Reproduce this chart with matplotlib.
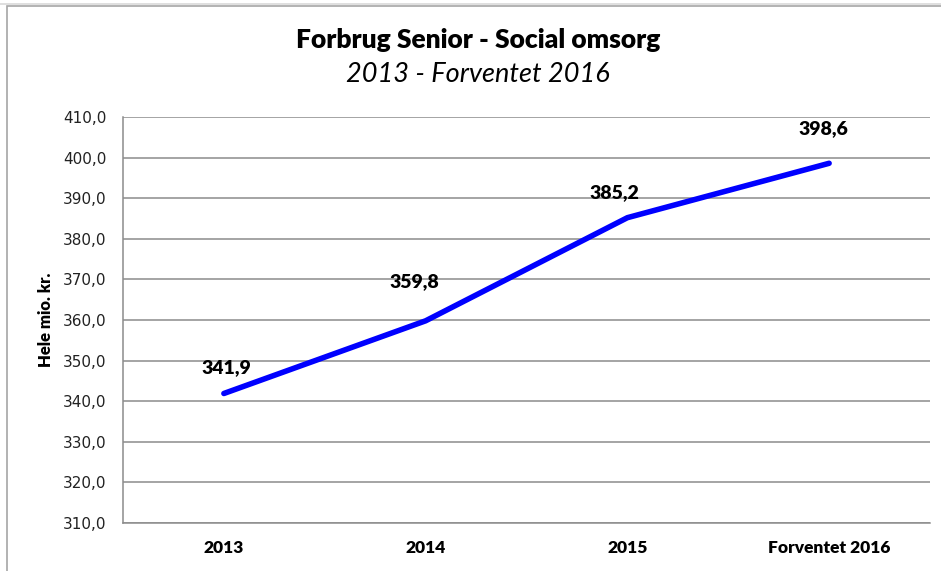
import matplotlib.pyplot as plt
from matplotlib.patches import Rectangle
from matplotlib.lines import Line2D

categories = ['2013', '2014', '2015', 'Forventet 2016']
values = [341.9, 359.8, 385.2, 398.6]
y_ticks = [310, 320, 330, 340, 350, 360, 370, 380, 390, 400, 410]
# label offsets in points (dx, dy), as placed in the original chart
label_offsets = [(2, 19), (-8, 28), (-9, 18), (-4, 25)]

W, H = 941, 571
fig = plt.figure(figsize=(W / 100, H / 100), dpi=100)
fig.patch.set_facecolor('white')

# outer chart frame
fig.add_artist(Line2D([0, 1], [1 - 3.5 / H, 1 - 3.5 / H], color='#d9d9d9', lw=1.2,
                      transform=fig.transFigure))
fig.add_artist(Rectangle((7 / W, -0.1), 1.2, 1 - 6 / H + 0.1, transform=fig.transFigure,
                         fill=False, edgecolor='#a6a6a6', lw=1.2))

ax = fig.add_axes([123 / W, 1 - 523 / H, (930 - 123) / W, (523 - 117) / H])
x = list(range(len(categories)))
ax.plot(x, values, color='#0000ff', lw=4, solid_capstyle='round', solid_joinstyle='round', zorder=3)

for xi, v, (dx, dy) in zip(x, values, label_offsets):
    ax.annotate(f'{v:.1f}'.replace('.', ','), (xi, v), xytext=(dx, dy), textcoords='offset points',
                ha='center', va='center', fontsize=14, fontweight='heavy', family='Lato')

ax.set_xlim(-0.5, len(categories) - 0.5)
ax.set_ylim(310, 410)
ax.set_yticks(y_ticks)
ax.set_yticklabels([f'{t},0' for t in y_ticks], fontsize=11, family='DejaVu Sans', color='#222222')
ax.set_xticks(x)
ax.set_xticklabels(categories, fontsize=12.5, fontweight='heavy', family='Lato')
ax.tick_params(axis='both', length=0)
ax.tick_params(axis='y', pad=12)
ax.tick_params(axis='x', pad=12)
ax.grid(axis='y', color='#8c8c8c', lw=1.1)
ax.set_axisbelow(True)
for side in ['top', 'right']:
    ax.spines[side].set_visible(False)
for side in ['left', 'bottom']:
    ax.spines[side].set_color('#8c8c8c')
    ax.spines[side].set_linewidth(1.1)

ax.set_ylabel('Hele mio. kr.', fontsize=12, fontweight='heavy', family='Lato', labelpad=6)

fig.text(478 / W, 1 - 40 / H, 'Forbrug Senior - Social omsorg', ha='center', va='center',
         fontsize=19, fontweight='heavy', family='Lato')
fig.text(478 / W, 1 - 74 / H, '2013 - Forventet 2016', ha='center', va='center',
         fontsize=19.5, style='italic', family='Lato')

fig.savefig('out.png', dpi=100)
